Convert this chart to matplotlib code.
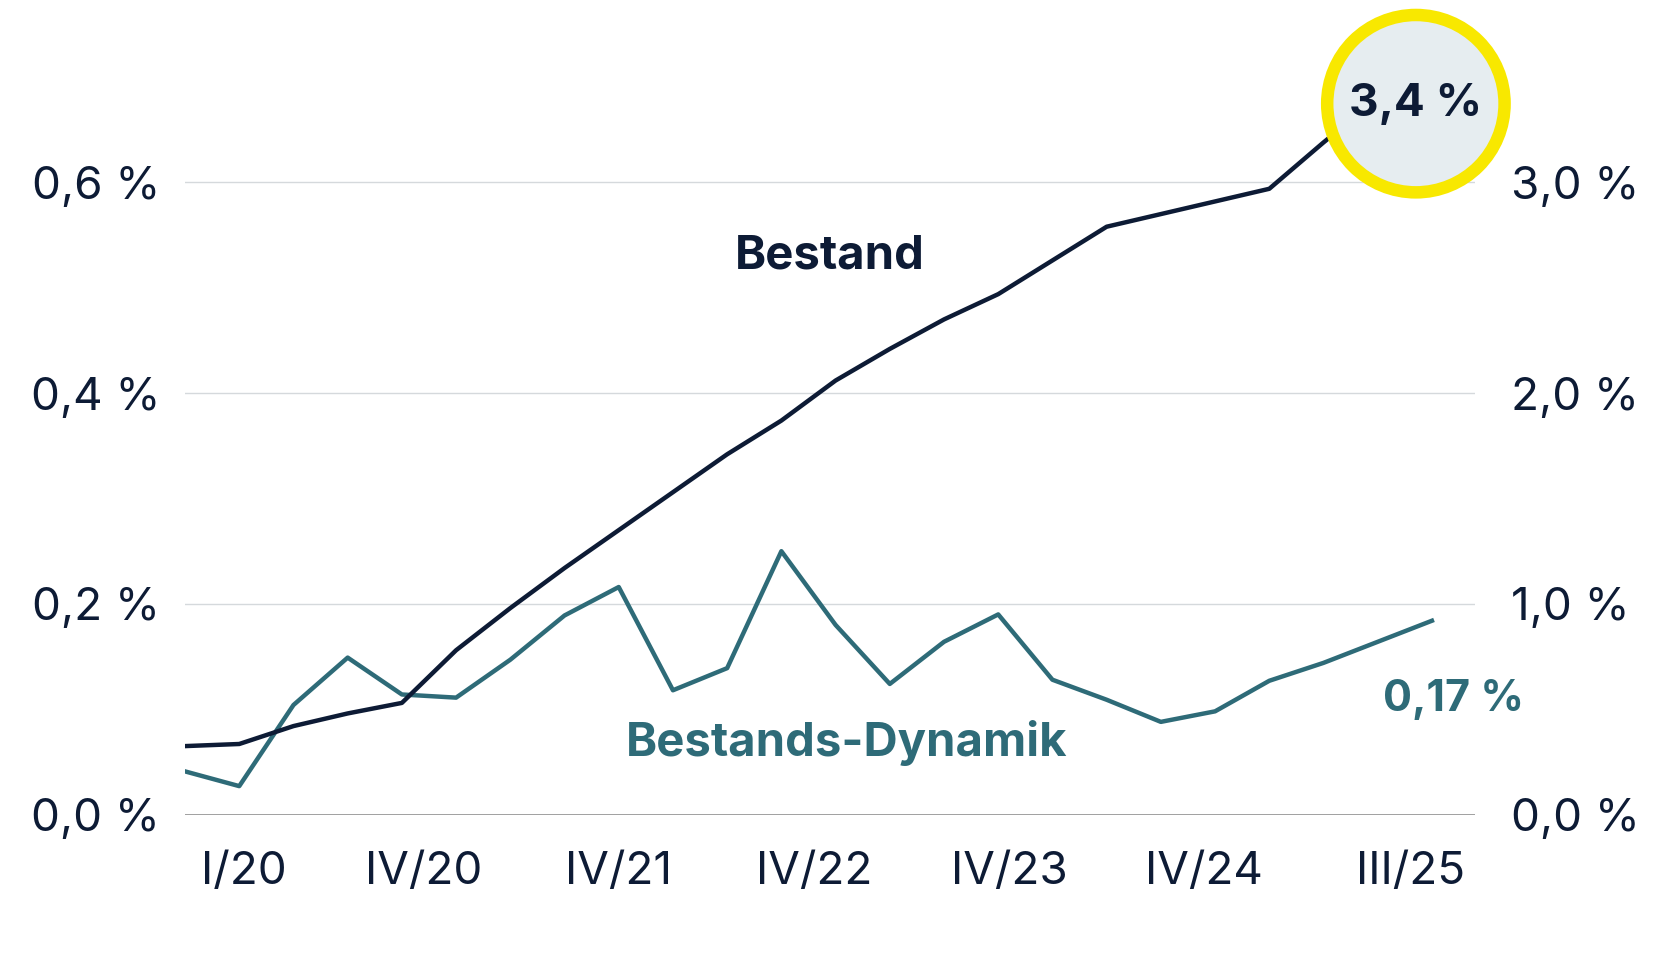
import matplotlib
matplotlib.use("Agg")
import matplotlib.pyplot as plt
from matplotlib.patches import Ellipse

plt.rcParams['font.family'] = ['Inter', 'DejaVu Sans']

dynamik = [0.041,0.027,0.104,0.149,0.114,0.111,0.147,0.189,0.216,0.118,0.139,0.25,
           0.18,0.124,0.164,0.19,0.128,0.109,0.088,0.098,0.127,0.144,0.164,0.184]
bestand = [0.325,0.335,0.42,0.48,0.53,0.78,0.98,1.17,1.35,1.53,1.71,1.87,
           2.06,2.21,2.35,2.47,2.63,2.79,2.85,2.91,2.97,3.19,3.4]
tick_pos = [1.08,4.4,8.0,11.6,15.2,18.8,22.6]
tick_labels = ['I/20','IV/20','IV/21','IV/22','IV/23','IV/24','III/25']
left_ticks = [0.0,0.2,0.4,0.6]
right_ticks = [0.0,1.0,2.0,3.0]

NAVY = '#0d1b35'; TEAL = '#2e6b78'
fig = plt.figure(figsize=(16.67,9.64), dpi=100)
ax = fig.add_axes([0.111,0.155,0.774,0.765])
ax2 = ax.twinx()
ax.set_xlim(0,23.8); ax.set_ylim(0,0.7); ax2.set_ylim(0,3.5)
for s in ax.spines.values(): s.set_visible(False)
for s in ax2.spines.values(): s.set_visible(False)
for t in left_ticks:
    ax.axhline(t, color='#999999' if t==0 else '#d5d9dc', lw=1.3 if t==0 else 1.0, zorder=0)
ax.set_yticks(left_ticks)
ax.set_yticklabels([f"{t:.1f} %".replace('.',',') for t in left_ticks])
ax2.set_yticks(right_ticks)
ax2.set_yticklabels([f"{t:.1f} %".replace('.',',') for t in right_ticks])
ax.set_xticks(tick_pos); ax.set_xticklabels(tick_labels)
for a in (ax, ax2):
    a.tick_params(length=0, labelsize=33, colors=NAVY)
ax.tick_params(axis='y', pad=18)
ax2.tick_params(axis='y', pad=26)
ax.tick_params(axis='x', pad=26)

ax.plot(range(len(dynamik)), dynamik, color=TEAL, lw=3.2, zorder=3)
ax2.plot(range(len(bestand)), bestand, color=NAVY, lw=3.2, zorder=3)

ax2.text(11.9, 2.65, 'Bestand', fontsize=34, fontweight='bold', color=NAVY, ha='center', va='center')
ax.text(12.2, 0.068, 'Bestands-Dynamik', fontsize=34, fontweight='bold', color=TEAL, ha='center', va='center')
ax.text(23.4, 0.109, '0,17 %', fontsize=31, fontweight='bold', color=TEAL, ha='center', va='center')

fig.patches.append(Ellipse((1325/1560, 1-97/902), 166/1560, 166/1560*16.67/9.64,
                           transform=fig.transFigure, facecolor='#e6edf0', edgecolor='#f8e800',
                           lw=9, zorder=10))
fig.text(1325/1560, 1-97/902, '3,4 %', fontsize=33, fontweight='bold', color=NAVY,
         ha='center', va='center', zorder=11)
fig.savefig('out.png', dpi=100)
